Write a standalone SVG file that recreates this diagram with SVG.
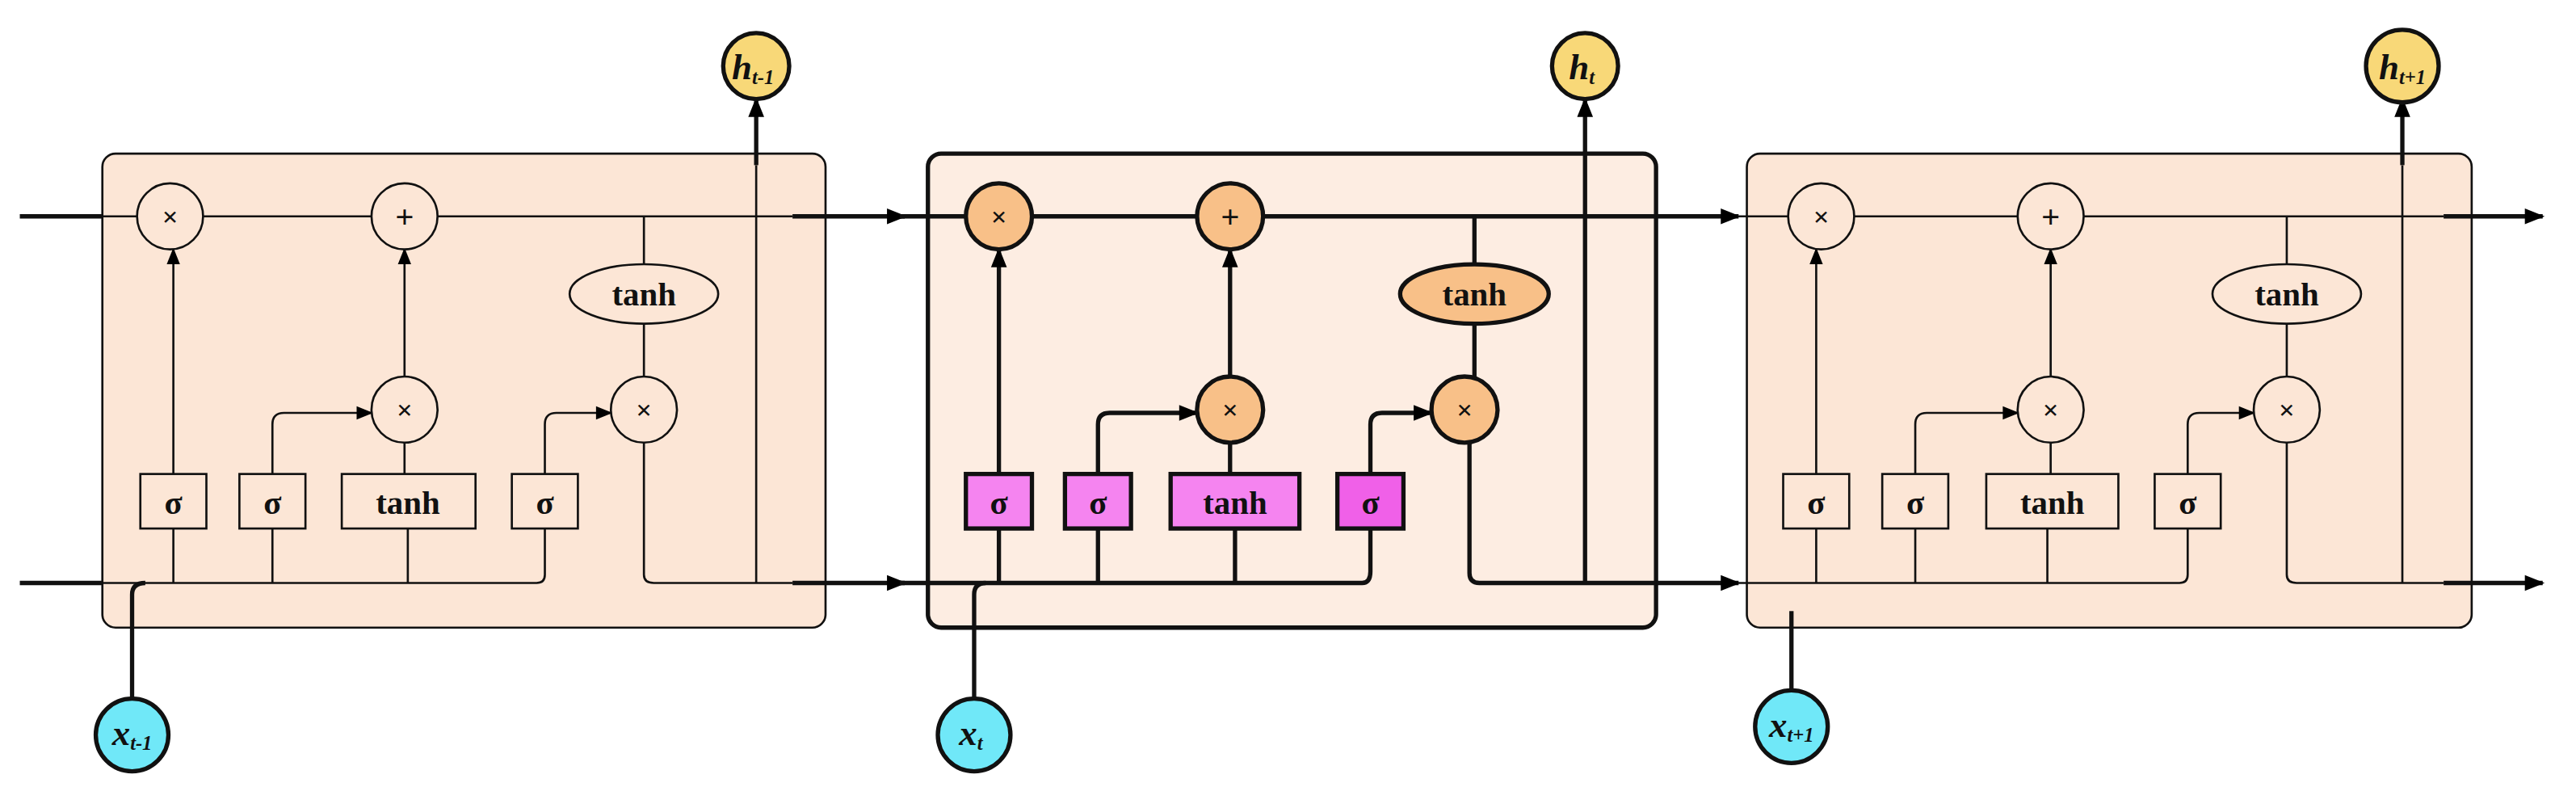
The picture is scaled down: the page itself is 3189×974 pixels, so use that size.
<svg xmlns="http://www.w3.org/2000/svg" width="3189" height="974" viewBox="0 0 3189 974">
<defs>
<marker id="ar" viewBox="0 0 10 10" refX="9" refY="5" markerWidth="12" markerHeight="10" markerUnits="userSpaceOnUse" orient="auto"><path d="M0,1 L10,5 L0,9 z" fill="#000"/></marker>
<marker id="arB" viewBox="0 0 10 10" refX="9" refY="5" markerWidth="16" markerHeight="12" markerUnits="userSpaceOnUse" orient="auto"><path d="M0,1 L10,5 L0,9 z" fill="#000"/></marker>
<style>
.thin{stroke:#111;stroke-width:1.3;fill:none}
.thick{stroke:#111;stroke-width:2.6;fill:none}
.ext{stroke:#111;stroke-width:2.6;fill:none}
.pale{fill:#fce6d6}
.org{fill:#f8c088}
.pink{fill:#f584f0}
.cyan{fill:#70e8f8}
.yel{fill:#f8d878}
.t{font-family:"Liberation Serif",serif;font-weight:bold;text-anchor:middle;fill:#111}
.v{font-family:"Liberation Serif",serif;font-style:italic;font-weight:bold;text-anchor:middle;fill:#111}
</style>
</defs>
<rect width="3189" height="974" fill="#fff"/>
<g transform="scale(2.044)">
<g id="cell-left"><rect class="thin pale" x="62" y="93" width="438" height="287" rx="8"/></g>
<g id="cell-mid"><rect class="thick" x="562" y="93" width="441" height="287" rx="8" style="fill:#fce6d6;fill-opacity:0.7"/></g>
<g id="cell-right"><rect class="thin pale" x="1058" y="93" width="439" height="287" rx="8"/></g>
<g id="connectors">
<path class="ext" d="M12,131 H62"/><path class="ext" d="M12,353 H62"/>
<path class="ext" d="M480,131 H548" marker-end="url(#arB)"/>
<path class="ext" d="M480,353 H548" marker-end="url(#arB)"/>
<path class="ext" d="M1003,131 H1053" marker-end="url(#arB)"/>
<path class="ext" d="M1003,353 H1053" marker-end="url(#arB)"/>
<path class="ext" d="M1480,131 H1540" marker-end="url(#arB)"/>
<path class="ext" d="M1480,353 H1540" marker-end="url(#arB)"/>
<path class="ext" d="M80,423 V360 Q80,353 88,353"/>
<path class="ext" d="M458,100 V60" marker-end="url(#arB)"/>
<path class="ext" d="M1085,418 V370"/>
<path class="ext" d="M1455,100 V60" marker-end="url(#arB)"/>
<g class="thin">
<path d="M62,131 H83 M123,131 H225 M265,131 H480"/>
<path d="M62,353 H325 Q330,353 330,348 V320"/>
<path d="M105,353 V320"/><path d="M105,287 V151" marker-end="url(#ar)"/>
<path d="M165,353 V320"/><path d="M165,287 V257 Q165,250 172,250 H225" marker-end="url(#ar)"/>
<path d="M247,353 V320 M245,287 V268"/>
<path d="M245,228 V151" marker-end="url(#ar)"/>
<path d="M330,287 V257 Q330,250 337,250 H370" marker-end="url(#ar)"/>
<path d="M390,131 V160 M390,196 V228"/>
<path d="M390,268 V348 Q390,353 396,353 H480"/>
<path d="M458,353 V100"/>
</g>
<g class="thick">
<path d="M545,131 H585 M625,131 H725 M765,131 H1003"/>
<path d="M545,353 H825 Q830,353 830,346 V320"/>
<path d="M605,353 V320"/><path d="M605,287 V151" marker-end="url(#arB)"/>
<path d="M665,353 V320"/><path d="M665,287 V257 Q665,250 672,250 H725" marker-end="url(#arB)"/>
<path d="M748,353 V320 M745,287 V268"/>
<path d="M745,228 V151" marker-end="url(#arB)"/>
<path d="M830,287 V257 Q830,250 837,250 H867" marker-end="url(#arB)"/>
<path d="M893,131 V160 M893,196 V228"/>
<path d="M890,268 V347 Q890,353 896,353 H1003"/>
<path d="M960,353 V60" marker-end="url(#arB)"/>
<path d="M590,423 V360 Q590,353 597,353"/>
</g>
<g class="thin">
<path d="M1053,131 H1083 M1123,131 H1222 M1262,131 H1480"/>
<path d="M1053,353 H1320 Q1325,353 1325,348 V320"/>
<path d="M1100,353 V320"/><path d="M1100,287 V151" marker-end="url(#ar)"/>
<path d="M1160,353 V320"/><path d="M1160,287 V257 Q1160,250 1167,250 H1222" marker-end="url(#ar)"/>
<path d="M1240,353 V320 M1242,287 V268"/>
<path d="M1242,228 V151" marker-end="url(#ar)"/>
<path d="M1325,287 V257 Q1325,250 1332,250 H1365" marker-end="url(#ar)"/>
<path d="M1385,131 V160 M1385,196 V228"/>
<path d="M1385,268 V348 Q1385,353 1391,353 H1480"/>
<path d="M1455,353 V100"/>
</g>
</g>
<g id="left-nodes">
<circle class="thin pale" cx="103" cy="131" r="20"/><text class="t" x="103" y="137" font-size="17">×</text>
<circle class="thin pale" cx="245" cy="131" r="20"/><text class="t" x="245" y="138" font-size="20">+</text>
<ellipse class="thin pale" cx="390" cy="178" rx="45" ry="18"/><text class="t" x="390" y="185" font-size="20">tanh</text>
<circle class="thin pale" cx="245" cy="248" r="20"/><text class="t" x="245" y="254" font-size="17">×</text>
<circle class="thin pale" cx="390" cy="248" r="20"/><text class="t" x="390" y="254" font-size="17">×</text>
<rect class="thin pale" x="85" y="287" width="40" height="33"/><text class="t" x="105" y="311" font-size="20">σ</text>
<rect class="thin pale" x="145" y="287" width="40" height="33"/><text class="t" x="165" y="311" font-size="20">σ</text>
<rect class="thin pale" x="207" y="287" width="81" height="33"/><text class="t" x="247" y="311" font-size="20">tanh</text>
<rect class="thin pale" x="310" y="287" width="40" height="33"/><text class="t" x="330" y="311" font-size="20">σ</text>
</g>
<g id="mid-nodes">
<circle class="thick org" cx="605" cy="131" r="20"/><text class="t" x="605" y="137" font-size="17">×</text>
<circle class="thick org" cx="745" cy="131" r="20"/><text class="t" x="745" y="138" font-size="20">+</text>
<ellipse class="thick org" cx="893" cy="178" rx="45" ry="18"/><text class="t" x="893" y="185" font-size="20">tanh</text>
<circle class="thick org" cx="745" cy="248" r="20"/><text class="t" x="745" y="254" font-size="17">×</text>
<circle class="thick org" cx="887" cy="248" r="20"/><text class="t" x="887" y="254" font-size="17">×</text>
<rect class="thick pink" x="585" y="287" width="40" height="33"/><text class="t" x="605" y="311" font-size="20">σ</text>
<rect class="thick pink" x="645" y="287" width="40" height="33"/><text class="t" x="665" y="311" font-size="20">σ</text>
<rect class="thick pink" x="709" y="287" width="78" height="33"/><text class="t" x="748" y="311" font-size="20">tanh</text>
<rect class="thick pink" x="810" y="287" width="40" height="33" style="fill:#f060e8"/><text class="t" x="830" y="311" font-size="20">σ</text>
</g>
<g id="right-nodes">
<circle class="thin pale" cx="1103" cy="131" r="20"/><text class="t" x="1103" y="137" font-size="17">×</text>
<circle class="thin pale" cx="1242" cy="131" r="20"/><text class="t" x="1242" y="138" font-size="20">+</text>
<ellipse class="thin pale" cx="1385" cy="178" rx="45" ry="18"/><text class="t" x="1385" y="185" font-size="20">tanh</text>
<circle class="thin pale" cx="1242" cy="248" r="20"/><text class="t" x="1242" y="254" font-size="17">×</text>
<circle class="thin pale" cx="1385" cy="248" r="20"/><text class="t" x="1385" y="254" font-size="17">×</text>
<rect class="thin pale" x="1080" y="287" width="40" height="33"/><text class="t" x="1100" y="311" font-size="20">σ</text>
<rect class="thin pale" x="1140" y="287" width="40" height="33"/><text class="t" x="1160" y="311" font-size="20">σ</text>
<rect class="thin pale" x="1203" y="287" width="80" height="33"/><text class="t" x="1243" y="311" font-size="20">tanh</text>
<rect class="thin pale" x="1305" y="287" width="40" height="33"/><text class="t" x="1325" y="311" font-size="20">σ</text>
</g>
<g id="io">
<circle class="ext yel" cx="458" cy="40" r="20"/><text class="v" x="456" y="48" font-size="22">h<tspan font-size="12" dy="3">t-1</tspan></text>
<circle class="ext yel" cx="960" cy="40" r="20"/><text class="v" x="958" y="48" font-size="22">h<tspan font-size="12" dy="3">t</tspan></text>
<circle class="ext yel" cx="1455" cy="40" r="22"/><text class="v" x="1455" y="48" font-size="22">h<tspan font-size="12" dy="3">t+1</tspan></text>
<circle class="ext cyan" cx="80" cy="445" r="22"/><text class="v" x="80" y="451" font-size="22">x<tspan font-size="12" dy="3">t-1</tspan></text>
<circle class="ext cyan" cx="590" cy="445" r="22"/><text class="v" x="588" y="451" font-size="22">x<tspan font-size="12" dy="3">t</tspan></text>
<circle class="ext cyan" cx="1085" cy="440" r="22"/><text class="v" x="1085" y="446" font-size="22">x<tspan font-size="12" dy="3">t+1</tspan></text>
</g>
</g>
</svg>
